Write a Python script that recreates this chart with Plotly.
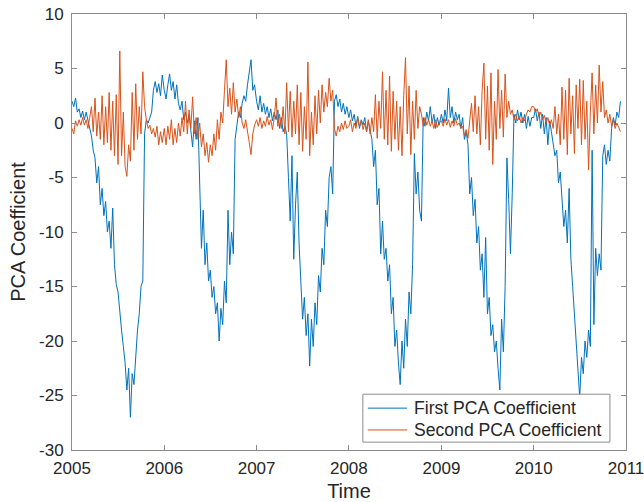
import pandas as pd
import plotly.graph_objects as go

# Weekly PCA coefficients, one list per calendar year
first_2005 = [2.0, 1.5, 2.3, 1.0, 1.3, 0.5, 1.1, 0.3, 1.0, 0.2,
              -0.3, -1.2, -2.5, -3.2, -5.5, -4.0, -7.5, -6.0, -8.5, -7.2,
              -10.0, -9.0, -11.5, -7.8, -13.0, -14.8, -15.5, -17.5, -19.0, -20.5,
              -22.0, -24.5, -22.5, -27.0, -23.0, -24.0, -21.0, -19.0, -17.5, -15.0,
              -14.5, -1.0, 0.3, 0.0, 0.5, 1.0, 3.0, 3.8, 2.8, 3.6,
              2.5, 4.4]
first_2006 = [3.0, 2.2, 3.5, 4.5, 3.0, 3.8, 2.2, 3.5, 1.8, 1.2,
              2.0, 0.3, 1.0, 0.0, 0.8, -0.8, -2.2, 0.2, -1.5, 0.5,
              -4.5, -11.5, -8.0, -13.0, -11.0, -14.5, -13.5, -16.0, -15.0, -17.5,
              -16.5, -20.0, -17.0, -18.5, -14.5, -16.5, -8.0, -13.0, -10.0, -12.0,
              -1.5, 0.0, 1.0, 0.5, 1.8, 2.5, 2.0, 3.5, 4.5, 5.8,
              3.0, 3.5]
first_2007 = [2.0, 1.2, 2.5, 1.0, 1.8, 0.8, 1.5, 0.5, 1.3, 0.2,
              1.0, 0.3, 1.2, -0.5, 0.5, -0.8, -0.3, -1.0, -5.0, -9.0,
              -3.0, -12.5, -7.5, -4.5, -11.0, -15.0, -18.0, -16.0, -19.5, -17.5,
              -22.3, -18.0, -20.5, -16.5, -18.5, -14.0, -15.5, -11.5, -13.0, -8.0,
              -9.5, -5.0, -4.0, -6.5, 2.0, 2.6, 1.5, 2.2, 1.0, 1.8,
              0.8, 1.5]
first_2008 = [0.5, 1.2, 0.2, 0.8, -0.3, 0.6, -0.5, 0.3, -0.2, 0.5,
              -0.8, 0.2, -0.5, -1.5, -4.0, -2.5, -7.5, -6.0, -12.0, -9.0,
              -12.5, -11.5, -14.5, -13.0, -17.5, -16.0, -20.5, -19.0, -22.0, -24.0,
              -20.0, -22.5, -18.0, -20.5, -15.5, -17.5, -13.0, -2.8, -6.5, -4.5,
              -8.0, -9.0, 0.5, -0.3, 1.0, 0.2, 1.5, 0.0, 0.8, -0.5,
              0.5, -0.2]
first_2009 = [0.8, 0.0, 1.2, 0.2, 3.2, 0.5, 1.5, 0.0, 1.0, 0.3,
              0.8, -0.5, 0.5, -1.5, -0.8, -2.0, -6.5, -5.0, -8.5, -7.0,
              -11.0, -9.5, -13.5, -12.0, -16.0, -10.5, -17.5, -16.0, -19.5, -18.5,
              -21.0, -20.0, -22.5, -24.5, -18.0, -21.0, -15.0, -3.2, -7.0, -12.0,
              -6.5, 0.8, 0.0, 1.2, 0.3, 1.0, 0.0, 0.8, -0.5, 0.6,
              -0.3, 0.5]
first_2010 = [0.5, 1.3, 0.2, 1.0, -0.5, 0.8, -1.0, 0.5, -2.0, 0.2,
              -0.8, -1.8, -3.0, -2.5, -5.5, -4.5, -7.0, -9.5, -8.0, -11.0,
              -6.0, -12.5, -15.0, -17.5, -20.0, -22.5, -25.2, -21.5, -23.0, -20.0,
              -21.5, -19.0, -20.5, -2.5, -18.5, -11.5, -14.0, -12.0, -13.5, -3.0,
              -2.0, -3.8, -2.5, -3.5, -0.5, 0.5, -0.2, 1.0, 0.5, 2.0]

second_2005 = [-0.5, -1.0, 0.2, -0.3, 0.3, -0.2, 0.5, -0.2, 0.3, -0.5,
               0.5, 1.5, -0.8, 2.3, -1.2, 1.0, -1.5, 2.5, -2.0, 1.5,
               -1.8, 2.8, -2.5, 2.0, -3.0, 2.6, -3.8, 6.6, -3.0, 1.0,
               -4.0, -4.9, -2.0, -3.5, 2.8, -2.5, 3.6, -1.5, 1.5, -1.0,
               4.7, 1.5, 0.3, -0.5, -0.2, -1.0, -0.5, -1.3, -0.3, -2.0,
               -0.8, -1.8]
second_2006 = [-0.5, -2.0, -0.3, -1.5, 0.3, -2.0, -0.5, -1.8, 0.0, -1.2,
               0.5, -0.8, 2.0, -1.0, 1.2, -0.5, 2.4, -1.0, 0.5, -1.5,
               0.0, -2.2, -1.0, -3.0, -1.8, -3.6, -2.0, -3.0, -1.0, -2.5,
               0.3, -1.5, 1.0, 0.0, 3.0, 5.8, 1.5, 3.2, 0.8, 3.7,
               1.0, 2.2, 0.5, 1.5, 0.0, -0.5, 0.3, -1.0, -1.8, -2.9,
               -1.0, -0.2]
second_2007 = [0.3, -0.3, 0.5, -0.5, 0.2, -0.3, 0.6, -0.2, 0.3, -0.6,
               0.5, 2.3, -0.3, 0.8, -0.5, 1.5, -1.0, 3.7, -0.8, 2.9,
               -1.3, 2.0, -1.0, 3.5, -2.0, 2.8, -2.6, 1.5, -1.5, 5.6,
               -3.0, 1.0, -2.0, 2.5, -1.0, 3.0, 0.0, 3.5, 1.0, 2.8,
               1.5, 4.1, 2.0, 3.0, -0.5, -1.2, -0.3, -0.8, 0.0, -0.6,
               0.2, -0.5]
second_2008 = [-0.3, 0.3, -0.8, 0.0, -0.5, 0.5, -0.3, 0.2, -0.6, 0.0,
               -0.8, 0.3, -1.0, 0.5, -0.8, 2.6, -1.4, 2.0, -0.5, 4.7,
               -1.5, 3.0, -2.0, 4.3, -2.6, 2.9, -1.5, 2.0, -2.5, 1.5,
               -3.0, 2.5, 6.0, -1.0, 3.4, -2.9, 2.0, -1.5, 3.0, -0.5,
               1.5, 0.8, -0.3, 0.5, -0.2, 0.3, -0.3, 0.2, -0.5, 0.3,
               -0.4, 0.0]
second_2009 = [0.2, -0.3, 0.4, -0.2, 0.3, -0.4, 0.2, -0.3, 0.4, -0.2,
               0.0, -0.5, -0.3, -1.2, -0.6, -1.4, 0.5, 1.8, -0.8, 2.5,
               -1.0, 1.5, -2.0, 3.0, 5.5, -1.5, 3.4, -2.5, 4.6, -3.8,
               2.0, -1.5, 4.9, -0.5, 3.0, -1.3, 4.5, 0.5, 2.0, 0.8,
               1.2, 0.3, 0.8, 0.2, 0.6, 0.0, 0.5, 0.2, 0.8, 1.2,
               1.0, 1.5]
second_2010 = [1.5, 1.0, 1.3, 0.6, 1.0, 0.3, 0.7, 0.0, 0.5, -0.2,
               0.3, -0.5, 1.5, -1.0, 0.8, -2.0, 3.3, -1.5, 3.0, -2.9,
               4.1, -1.0, 2.5, -2.8, 3.5, -0.5, 4.0, -2.0, 3.9, -1.5,
               2.0, -4.3, 1.0, 4.6, -1.0, 3.5, 0.0, 5.3, 1.0, 3.8,
               0.5, 1.2, 0.0, 0.8, -0.3, 0.3, -0.5, 0.0, -0.4, -0.8]

years = [2005, 2006, 2007, 2008, 2009, 2010]
first_by_year = [first_2005, first_2006, first_2007, first_2008, first_2009, first_2010]
second_by_year = [second_2005, second_2006, second_2007, second_2008, second_2009, second_2010]

series_names = ["First PCA Coefficient", "Second PCA Coefficient"]
series_colors = ["#0072BD", "#D95319"]

year_ticks = [2005, 2006, 2007, 2008, 2009, 2010, 2011]
y_ticks = [-30, -25, -20, -15, -10, -5, 0, 5, 10]

dates, first, second = [], [], []
for yr, a, b in zip(years, first_by_year, second_by_year):
    dates.extend(pd.date_range(f"{yr}-01-01", periods=len(a), freq="7D"))
    first.extend(a)
    second.extend(b)

AXIS = "#8c8c8c"
TEXT = "#262626"
FONT = "Liberation Sans, Arial, Helvetica, sans-serif"

fig = go.Figure()
for name, color, values in zip(series_names, series_colors, [first, second]):
    fig.add_trace(go.Scatter(x=dates, y=values, mode="lines", name=name,
                             line=dict(color=color, width=1), showlegend=False))

# Boxed legend in the lower-right corner of the axes (axes-domain coordinates)
fig.add_shape(type="rect", xref="x domain", yref="y domain",
              x0=0.525, x1=0.971, y0=0.018, y1=0.128,
              line=dict(color=AXIS, width=1), fillcolor="white", layer="above")
for row_y, name, color in zip([0.096, 0.046], series_names, series_colors):
    fig.add_shape(type="line", xref="x domain", yref="y domain",
                  x0=0.534, x1=0.605, y0=row_y, y1=row_y,
                  line=dict(color=color, width=1), layer="above")
    fig.add_annotation(xref="x domain", yref="y domain", x=0.613, y=row_y,
                       text=name, showarrow=False, xanchor="left", yanchor="middle",
                       font=dict(size=17.6, color=TEXT))

fig.update_layout(
    width=644, height=502,
    margin=dict(l=72, r=18, t=14, b=52),
    paper_bgcolor="white", plot_bgcolor="white",
    font=dict(family=FONT, size=17, color=TEXT),
    showlegend=False,
)
fig.update_xaxes(
    type="date", range=["2005-01-01", "2011-01-01"],
    tickvals=[f"{y}-01-01" for y in year_ticks], ticktext=[str(y) for y in year_ticks],
    ticks="inside", ticklen=5, tickcolor=AXIS, showline=True, linecolor=AXIS,
    linewidth=1, mirror="ticks", showgrid=False, zeroline=False,
    ticklabelstandoff=3, ticklabeloverflow="allow",
    title=dict(text="Time", standoff=8), automargin=False,
)
fig.update_yaxes(
    range=[-30, 10], tickvals=y_ticks, ticktext=[str(v) for v in y_ticks],
    ticks="inside", ticklen=5, tickcolor=AXIS, showline=True, linecolor=AXIS,
    linewidth=1, mirror="ticks", showgrid=False, zeroline=False,
    ticklabelstandoff=4,
    title=dict(text="PCA Coefficient", standoff=8), automargin=False,
)

fig.write_html("out.html")
